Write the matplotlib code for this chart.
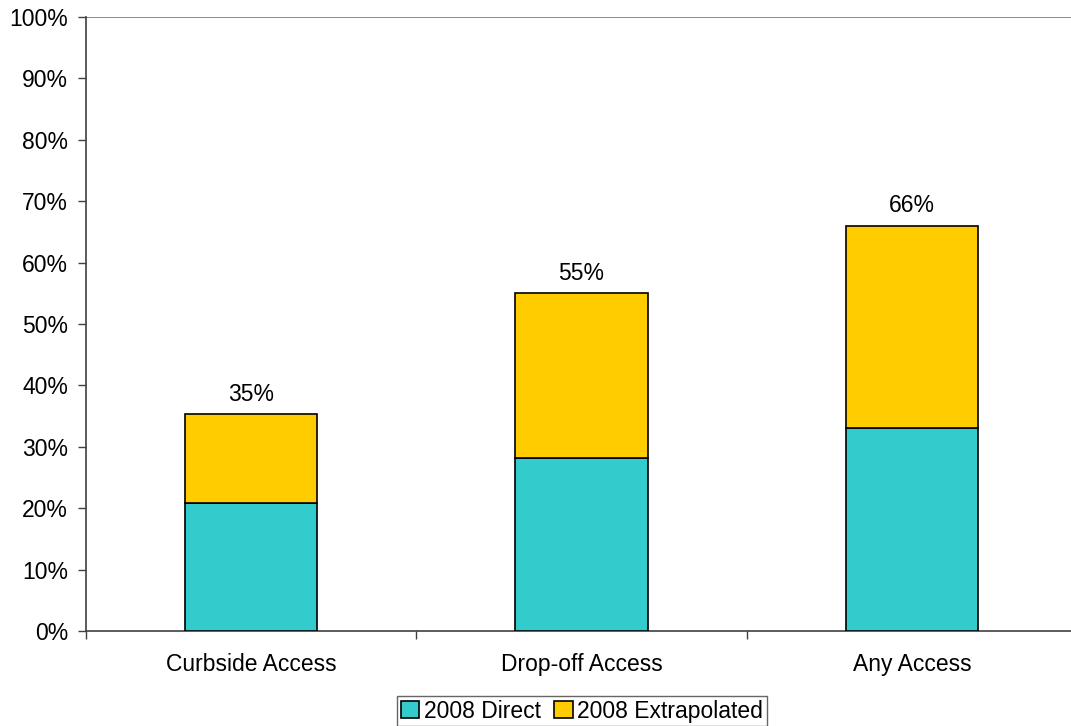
import matplotlib.pyplot as plt
from matplotlib.ticker import PercentFormatter

plt.rcParams['font.family'] = ['Liberation Sans', 'DejaVu Sans']

# 数据
categories = ['Curbside Access', 'Drop-off Access', 'Any Access']
direct = [0.209, 0.281, 0.330]
extrapolated = [0.144, 0.269, 0.330]
total_labels = ['35%', '55%', '66%']

fs = 16.5
fig = plt.figure(figsize=(10.71, 7.26), dpi=100)
ax = fig.add_axes([86 / 1071, 1 - 631 / 726, 991 / 1071, 614 / 726])

x = range(len(categories))
ax.bar(x, direct, width=0.4, color='#33CCCC', edgecolor='black', linewidth=1.2,
       label='2008 Direct', zorder=3)
ax.bar(x, extrapolated, width=0.4, bottom=direct, color='#FFCC00', edgecolor='black',
       linewidth=1.2, label='2008 Extrapolated', zorder=3)

for i, lab in enumerate(total_labels):
    ax.annotate(lab, (i, direct[i] + extrapolated[i]), xytext=(0, 6),
                textcoords='offset points', ha='center', va='bottom', fontsize=fs)

ax.set_xlim(-0.5, 2.5)
ax.set_ylim(0, 1)
ax.set_yticks([i / 10 for i in range(11)])
ax.yaxis.set_major_formatter(PercentFormatter(1.0, decimals=0))
ax.set_xticks([0.5, 1.5, 2.5, -0.5])
ax.set_xticklabels([])
ax.set_xticks(list(x), minor=True)
ax.set_xticklabels(categories, minor=True)
ax.tick_params(axis='x', which='minor', length=0, pad=16, labelsize=fs)
ax.tick_params(axis='x', which='major', length=6, color='#404040', width=1)
ax.tick_params(axis='y', length=6, color='#404040', width=1, labelsize=fs, pad=7)

ax.axhline(1.0, color='#909090', linewidth=1.5, zorder=1)
ax.spines['top'].set_visible(False)
ax.spines['right'].set_visible(False)
for s in ['left', 'bottom']:
    ax.spines[s].set_color('#404040')
    ax.spines[s].set_linewidth(1.2)

leg = ax.legend(loc='upper center', bbox_to_anchor=(496 / 991, -0.106), ncol=2,
                fontsize=fs, frameon=True, fancybox=False, handlelength=0.8,
                handleheight=0.8, handletextpad=0.2, columnspacing=0.6,
                borderpad=0.15, borderaxespad=0)
leg.get_frame().set_edgecolor('#404040')
leg.get_frame().set_linewidth(1)

fig.savefig('out.png', dpi=100)
